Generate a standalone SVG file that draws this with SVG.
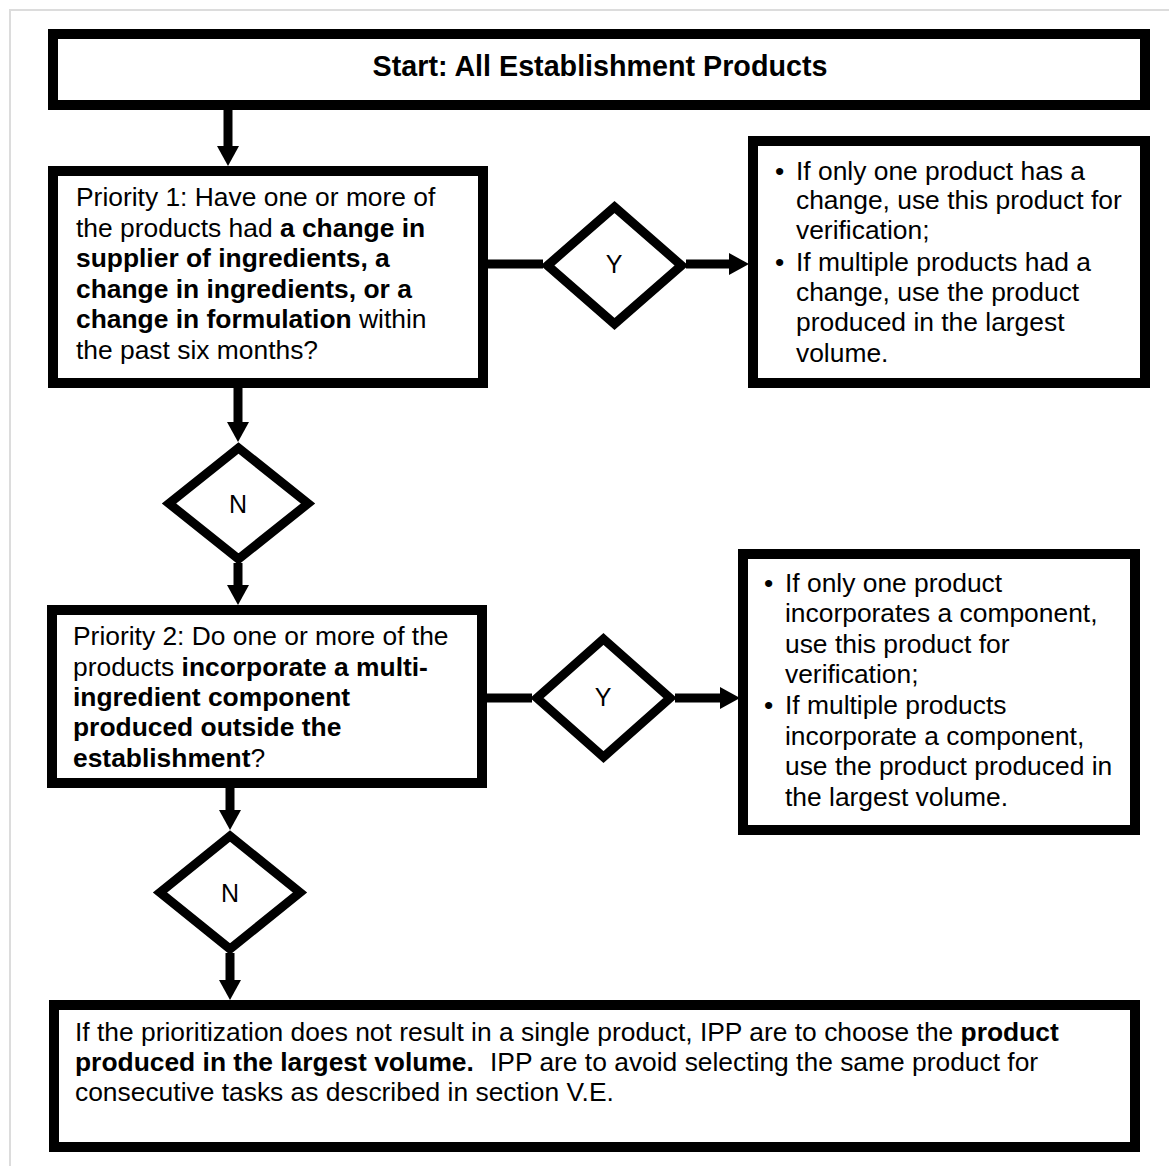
<svg xmlns="http://www.w3.org/2000/svg" width="1169" height="1166" viewBox="0 0 1169 1166">
  <defs>
    <marker id="arrow" markerUnits="userSpaceOnUse" markerWidth="22" markerHeight="22" refX="8" refY="11" orient="auto">
      <path d="M0,0 L20,11 L0,22 Z" fill="#000"/>
    </marker>
  </defs>
  <style>
    .box { fill: #fff; stroke: #000; stroke-width: 10; }
    .dia { fill: #fff; stroke: #000; stroke-width: 9; stroke-linejoin: miter; }
    .edge { fill: none; stroke: #000; stroke-width: 9; }
    .arr { marker-end: url(#arrow); }
    text { font-family: "Liberation Sans", Arial, sans-serif; font-size: 26.4px; fill: #000; }
    .title { font-weight: bold; font-size: 28.7px; }
    .b { font-weight: bold; }
    .lbl { font-size: 25px; text-anchor: middle; }
  </style>
  <rect x="0" y="0" width="1169" height="1166" fill="#fff"/>
  <rect x="10" y="10" width="1200" height="1200" fill="#fff" stroke="#dcdcdc" stroke-width="2"/>

  <g id="connectors">
    <line class="edge arr" x1="228" y1="110" x2="228" y2="154"/>
    <line class="edge" x1="488" y1="264" x2="543" y2="264"/>
    <line class="edge arr" x1="686" y1="264" x2="737" y2="264"/>
    <line class="edge arr" x1="238" y1="388" x2="238" y2="430"/>
    <line class="edge arr" x1="238" y1="563" x2="238" y2="593"/>
    <line class="edge" x1="487" y1="698" x2="532" y2="698"/>
    <line class="edge arr" x1="675" y1="698" x2="728" y2="698"/>
    <line class="edge arr" x1="230" y1="788" x2="230" y2="818"/>
    <line class="edge arr" x1="230" y1="953" x2="230" y2="988"/>
  </g>

  <g id="start">
    <rect class="box" x="53" y="34" width="1092" height="71"/>
    <text class="title" x="600" y="76" text-anchor="middle">Start: All Establishment Products</text>
  </g>

  <g id="priority1">
    <rect class="box" x="53" y="171" width="430" height="212"/>
    <text x="76" y="206">Priority 1: Have one or more of</text>
    <text x="76" y="237">the products had <tspan class="b">a change in</tspan></text>
    <text x="76" y="267" class="b">supplier of ingredients, a</text>
    <text x="76" y="298" class="b">change in ingredients, or a</text>
    <text x="76" y="328"><tspan class="b">change in formulation</tspan> within</text>
    <text x="76" y="359">the past six months?</text>
  </g>

  <g id="y1">
    <polygon class="dia" points="614.5,207 681.5,265.5 614.5,324 547.5,265.5"/>
    <text class="lbl" x="614" y="273">Y</text>
  </g>

  <g id="result1">
    <rect class="box" x="753" y="141" width="392" height="242"/>
    <text x="775" y="180">•</text>
    <text x="796" y="180">If only one product has a</text>
    <text x="796" y="209">change, use this product for</text>
    <text x="796" y="239">verification;</text>
    <text x="775" y="271">•</text>
    <text x="796" y="271">If multiple products had a</text>
    <text x="796" y="301">change, use the product</text>
    <text x="796" y="331">produced in the largest</text>
    <text x="796" y="362">volume.</text>
  </g>

  <g id="n1">
    <polygon class="dia" points="238.5,448 308,503.5 238.5,559 169,503.5"/>
    <text class="lbl" x="238" y="513">N</text>
  </g>

  <g id="priority2">
    <rect class="box" x="52" y="610" width="430" height="173"/>
    <text x="73" y="645">Priority 2: Do one or more of the</text>
    <text x="73" y="676">products <tspan class="b">incorporate a multi-</tspan></text>
    <text x="73" y="706" class="b">ingredient component</text>
    <text x="73" y="736" class="b">produced outside the</text>
    <text x="73" y="767"><tspan class="b">establishment</tspan>?</text>
  </g>

  <g id="y2">
    <polygon class="dia" points="603.5,639 670,698 603.5,757 537,698"/>
    <text class="lbl" x="603" y="706">Y</text>
  </g>

  <g id="result2">
    <rect class="box" x="743" y="554" width="392" height="276"/>
    <text x="764" y="592">•</text>
    <text x="785" y="592">If only one product</text>
    <text x="785" y="622">incorporates a component,</text>
    <text x="785" y="653">use this product for</text>
    <text x="785" y="683">verification;</text>
    <text x="764" y="714">•</text>
    <text x="785" y="714">If multiple products</text>
    <text x="785" y="745">incorporate a component,</text>
    <text x="785" y="775">use the product produced in</text>
    <text x="785" y="806">the largest volume.</text>
  </g>

  <g id="n2">
    <polygon class="dia" points="230,836 300,892.5 230,949 160,892.5"/>
    <text class="lbl" x="230" y="902">N</text>
  </g>

  <g id="final">
    <rect class="box" x="54" y="1005" width="1081" height="142"/>
    <text x="75" y="1041">If the prioritization does not result in a single product, IPP are to choose the <tspan class="b">product</tspan></text>
    <text x="75" y="1071"><tspan class="b">produced in the largest volume.</tspan><tspan x="490">IPP are to avoid selecting the same product for</tspan></text>
    <text x="75" y="1101">consecutive tasks as described in section V.E.</text>
  </g>
</svg>
